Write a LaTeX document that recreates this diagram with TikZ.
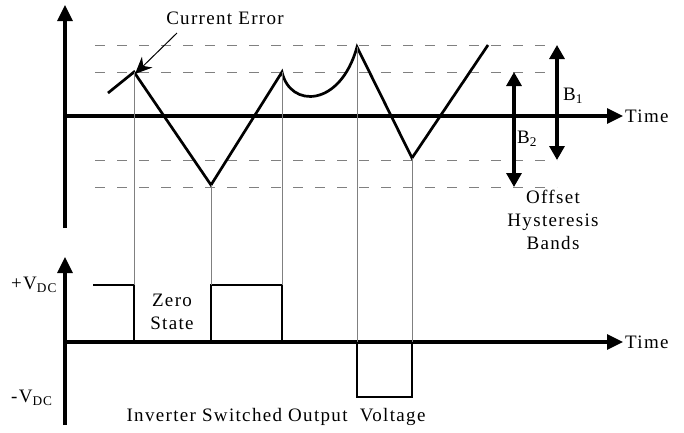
\documentclass[tikz,border=0pt]{standalone}
\usepackage{fontspec}
\setmainfont{Liberation Serif}[LetterSpace=7]
\usetikzlibrary{arrows.meta,positioning}

\begin{document}
\begin{tikzpicture}[x=1pt, y=-1pt,
    font=\fontsize{19}{23}\selectfont,
    axis/.style={line width=3.2pt, -{Triangle[length=16pt,width=15pt]}},
    wave/.style={line width=2.7pt, line join=miter},
    guide/.style={gray, line width=1pt},
    band/.style={gray, line width=1pt, dash pattern=on 10pt off 12pt},
    barr/.style={line width=3.2pt, {Triangle[length=14pt,width=15pt]}-{Triangle[length=14pt,width=15pt]}},
    lbl/.style={inner sep=0pt}
]
\useasboundingbox (0,0) rectangle (684,432);

% axes of the current error
\coordinate (o1) at (65,116);
\draw[axis] (65,228) -- (65,5);
\draw[axis] (o1) -- (623,116) coordinate (t1);
\node[lbl, anchor=west] (time1) at ([xshift=2pt]t1) {Time};

% axes of the output voltage
\coordinate (o2) at (65,342);
\draw[axis] (65,425) -- (65,257);
\draw[axis] (o2) -- (623,342) coordinate (t2);
\node[lbl, anchor=west] (time2) at ([xshift=2pt]t2) {Time};

% hysteresis bands
\foreach \y in {45,72,160,187}
    \draw[band] (95,\y) -- (557,\y);

% error waveform
\coordinate (p0) at (108,93);
\coordinate (p1) at (134,72);
\coordinate (p2) at (211,185);
\coordinate (p3) at (282,72);
\coordinate (p4) at (357,47);
\coordinate (p5) at (412,158);
\coordinate (p6) at (488,45);
\draw[wave] (p0) -- (p1) -- (p2) -- (p3)
    .. controls (290,108) and (340,108) .. (p4) -- (p5) -- (p6);

% switched output voltage
\draw[wave] (93,285) -- (134,285) -- (134,342);
\draw[wave] (211,342) -- (211,285) -- (282,285) -- (282,342);
\draw[wave] (357,342) -- (357,397) -- (412,397) -- (412,342);

% switching instants
\draw[guide] (p1) -- (134,285);
\draw[guide] (p2) -- (211,285);
\draw[guide] (p3) -- (282,285);
\draw[guide] (p4) -- (357,342);
\draw[guide] (p5) -- (412,342);

% band widths
\draw[barr] (557,45) -- (557,160);
\draw[barr] (514,72) -- (514,187);
\node[lbl, anchor=west] (b1) at (563,96) {B\textsubscript{1}};
\node[lbl, anchor=west] (b2) at (517,139) {B\textsubscript{2}};
\node[align=center, anchor=north] (offset) at (553,187) {Offset\\Hysteresis\\Bands};

% labels
\node (err) at (225,18) {Current Error};
\draw[-{Stealth[length=17pt,width=15pt]}, line width=1pt] (177,33) -- ([shift={(1pt,-2pt)}]p1);
\node[lbl, anchor=west] (vpos) at (11,285) {+V\textsubscript{DC}};
\node[lbl, anchor=west] (vneg) at (11,398) {-V\textsubscript{DC}};
\node[align=center] (zero) at (172,312) {Zero\\State};
\node (inv) at (276,417) {Inverter Switched Output~ Voltage};
\end{tikzpicture}
\end{document}
